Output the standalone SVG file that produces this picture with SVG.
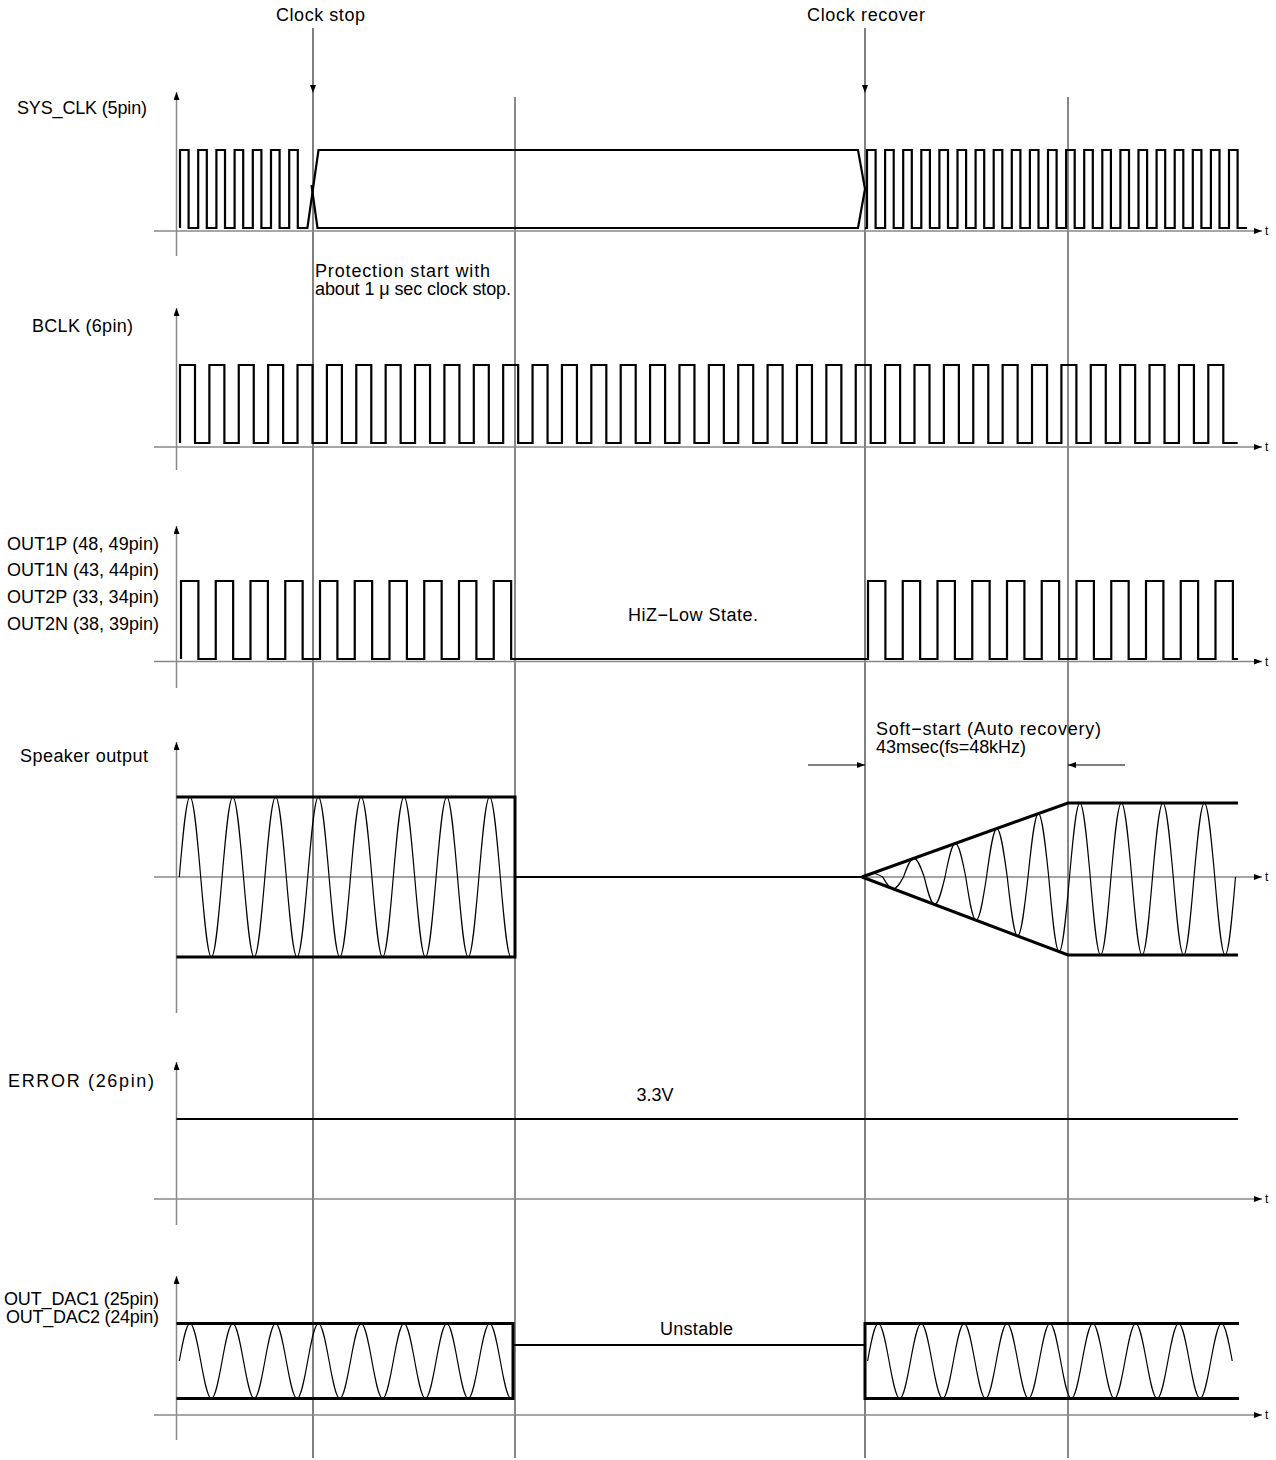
<svg xmlns="http://www.w3.org/2000/svg" width="1276" height="1460" viewBox="0 0 1276 1460">
<defs>
<marker id="ah" viewBox="0 0 8 6" refX="8" refY="3" markerWidth="8" markerHeight="6" orient="auto" markerUnits="userSpaceOnUse"><path d="M0,0 L8,3 L0,6 z" fill="#000"/></marker>
<style>
text{font-family:"Liberation Sans",Arial,sans-serif;font-size:18px;fill:#000}
.tl{font-size:12px}
.ax{stroke:#888;stroke-width:1.5;fill:none}
.sig{stroke:#000;stroke-width:2.2;fill:none}
.env{stroke:#000;stroke-width:3;fill:none}
.flat{stroke:#000;stroke-width:2;fill:none}
.sin{stroke:#000;stroke-width:1.2;fill:none}
.mk{stroke:#000;stroke-width:1;fill:none}
.mkg{stroke:#888;stroke-width:2;fill:none}
.dim{stroke:#000;stroke-width:1;fill:none}
</style>
</defs>
<rect width="1276" height="1460" fill="#fff"/>

<g id="connectors">
<path class="mk" d="M313,28 V93" marker-end="url(#ah)"/>
<path class="mk" d="M313,93 V1458"/>
<path class="mk" d="M865,28 V93" marker-end="url(#ah)"/>
<path class="mk" d="M865,93 V1458"/>
<path class="mkg" d="M515,97 V1458"/>
<path class="mkg" d="M1068,97 V1458"/>
<path class="dim" d="M808,765 H865" marker-end="url(#ah)"/>
<path class="dim" d="M1125,765 H1068" marker-end="url(#ah)"/>
</g>

<g id="axes">
<path class="ax" d="M176.5,256 V92" marker-end="url(#ah)"/>
<path class="ax" d="M154,231 H1262" marker-end="url(#ah)"/>
<path class="ax" d="M176.5,470 V308" marker-end="url(#ah)"/>
<path class="ax" d="M154,447 H1262" marker-end="url(#ah)"/>
<path class="ax" d="M176.5,688 V526" marker-end="url(#ah)"/>
<path class="ax" d="M154,661.5 H1262" marker-end="url(#ah)"/>
<path class="ax" d="M176.5,1013 V742" marker-end="url(#ah)"/>
<path class="ax" d="M154,877 H1262" marker-end="url(#ah)"/>
<path class="ax" d="M176.5,1225 V1062" marker-end="url(#ah)"/>
<path class="ax" d="M154,1199 H1262" marker-end="url(#ah)"/>
<path class="ax" d="M176.5,1440 V1276" marker-end="url(#ah)"/>
<path class="ax" d="M154,1415 H1262" marker-end="url(#ah)"/>
<text class="tl" x="1265" y="235">t</text>
<text class="tl" x="1265" y="451">t</text>
<text class="tl" x="1265" y="665.5">t</text>
<text class="tl" x="1265" y="881">t</text>
<text class="tl" x="1265" y="1203">t</text>
<text class="tl" x="1265" y="1419">t</text>
</g>

<g id="events">
<text x="276" y="20.5" textLength="89" lengthAdjust="spacing">Clock stop</text>
<text x="807" y="20.5" textLength="118" lengthAdjust="spacing">Clock recover</text>
</g>

<g id="sys_clk">
<text x="17" y="113.5" textLength="130" lengthAdjust="spacing">SYS_CLK (5pin)</text>
<path class="sig" d="M180,228 v-78h8.6v78h9.6 v-78h8.6v78h9.6 v-78h8.6v78h9.6 v-78h8.6v78h9.6 v-78h8.6v78h9.6 v-78h8.6v78h9.6 v-78h8.6v78h9.6 L318.5,150 H858 L865,189"/>
<path class="sig" d="M311.5,185 L317.5,228 H858 L865,189"/>
<path class="sig" d="M865,228 h2 v-78h8.6v78h9.5 v-78h8.6v78h9.5 v-78h8.6v78h9.5 v-78h8.6v78h9.5 v-78h8.6v78h9.5 v-78h8.6v78h9.5 v-78h8.6v78h9.5 v-78h8.6v78h9.5 v-78h8.6v78h9.5 v-78h8.6v78h9.5 v-78h8.6v78h9.5 v-78h8.6v78h9.5 v-78h8.6v78h9.5 v-78h8.6v78h9.5 v-78h8.6v78h9.5 v-78h8.6v78h9.5 v-78h8.6v78h9.5 v-78h8.6v78h9.5 v-78h8.6v78h9.5 v-78h8.6v78h9.5 v-78h8.6v78h9.5"/>
<text x="315" y="277" textLength="175" lengthAdjust="spacing">Protection start with</text>
<text x="315" y="295" textLength="196" lengthAdjust="spacing">about 1 μ sec clock stop.</text>
</g>

<g id="bclk">
<text x="32" y="331.5" textLength="101" lengthAdjust="spacing">BCLK (6pin)</text>
<path class="sig" d="M180,443 v-78h15v78h14.38 v-78h15v78h14.38 v-78h15v78h14.38 v-78h15v78h14.38 v-78h15v78h14.38 v-78h15v78h14.38 v-78h15v78h14.38 v-78h15v78h14.38 v-78h15v78h14.38 v-78h15v78h14.38 v-78h15v78h14.38 v-78h15v78h14.38 v-78h15v78h14.38 v-78h15v78h14.38 v-78h15v78h14.38 v-78h15v78h14.38 v-78h15v78h14.38 v-78h15v78h14.38 v-78h15v78h14.38 v-78h15v78h14.38 v-78h15v78h14.38 v-78h15v78h14.38 v-78h15v78h14.38 v-78h15v78h14.38 v-78h15v78h14.38 v-78h15v78h14.38 v-78h15v78h14.38 v-78h15v78h14.38 v-78h15v78h14.38 v-78h15v78h14.38 v-78h15v78h14.38 v-78h15v78h14.38 v-78h15v78h14.38 v-78h15v78h14.38 v-78h15v78h14.38 v-78h15v78h14.38"/>
</g>

<g id="out_pwm">
<text x="7" y="549.5" textLength="152" lengthAdjust="spacing">OUT1P (48, 49pin)</text>
<text x="7" y="576" textLength="152" lengthAdjust="spacing">OUT1N (43, 44pin)</text>
<text x="7" y="603" textLength="152" lengthAdjust="spacing">OUT2P (33, 34pin)</text>
<text x="7" y="629.5" textLength="152" lengthAdjust="spacing">OUT2N (38, 39pin)</text>
<path class="sig" d="M181,659 v-78h17.4v78h17.35 v-78h17.4v78h17.35 v-78h17.4v78h17.35 v-78h17.4v78h17.35 v-78h17.4v78h17.35 v-78h17.4v78h17.35 v-78h17.4v78h17.35 v-78h17.4v78h17.35 v-78h17.4v78h17.35 v-78h17.4v78h17.35 H868 v-78h17.4v78h17.35 v-78h17.4v78h17.35 v-78h17.4v78h17.35 v-78h17.4v78h17.35 v-78h17.4v78h17.35 v-78h17.4v78h17.35 v-78h17.4v78h17.35 v-78h17.4v78h17.35 v-78h17.4v78h17.35 v-78h17.4v78h17.35 v-78h17.4v78 H1238"/>
<text x="628" y="620.5" textLength="130" lengthAdjust="spacing">HiZ−Low State.</text>
</g>

<g id="speaker_output">
<text x="20" y="761.5" textLength="128" lengthAdjust="spacing">Speaker output</text>
<path class="env" d="M176.5,797 H515 V957 H176.5"/>
<path class="sin" d="M179.3,877 c3.489,-40.98 6.828,-80 10.7,-80 s7.211,39.02 10.7,80 s6.828,80 10.7,80 s7.211,-39.02 10.7,-80 s6.828,-80 10.7,-80 s7.211,39.02 10.7,80 s6.828,80 10.7,80 s7.211,-39.02 10.7,-80 s6.828,-80 10.7,-80 s7.211,39.02 10.7,80 s6.828,80 10.7,80 s7.211,-39.02 10.7,-80 s6.828,-80 10.7,-80 s7.211,39.02 10.7,80 s6.828,80 10.7,80 s7.211,-39.02 10.7,-80 s6.828,-80 10.7,-80 s7.211,39.02 10.7,80 s6.828,80 10.7,80 s7.211,-39.02 10.7,-80 s6.828,-80 10.7,-80 s7.211,39.02 10.7,80 s6.828,80 10.7,80 s7.211,-39.02 10.7,-80 s6.828,-80 10.7,-80 s7.211,39.02 10.7,80 s6.828,80 10.7,80 s7.211,-39.02 10.7,-80 s6.828,-80 10.7,-80 s7.211,39.02 10.7,80 s6.828,80 10.7,80"/>
<path class="flat" d="M515,877 H862"/>
<path class="env" d="M862,877 L1068,803 H1238 M862,877 L1068,955 H1238"/>
<path class="sin" d="M862,877 c3.383,-1.91 6.62,-3.73 10.375,-3.73 c3.755,0 6.992,1.82 10.375,3.73 c3.383,6.04 6.62,11.79 10.375,11.79 c3.755,0 6.992,-5.75 10.375,-11.79 c3.383,-9.54 6.62,-18.63 10.375,-18.63 c3.755,0 6.992,9.09 10.375,18.63 c3.383,14.09 6.62,27.5 10.375,27.5 c3.755,0 6.992,-13.41 10.375,-27.5 c3.383,-17.18 6.62,-33.54 10.375,-33.54 c3.755,0 6.992,16.36 10.375,33.54 c3.383,22.14 6.62,43.21 10.375,43.21 c3.755,0 6.992,-21.07 10.375,-43.21 c3.383,-24.82 6.62,-48.45 10.375,-48.45 c3.755,0 6.992,23.63 10.375,48.45 c3.383,30.19 6.62,58.93 10.375,58.93 c3.755,0 6.992,-28.74 10.375,-58.93 c3.383,-32.46 6.62,-63.36 10.375,-63.36 c3.755,0 6.992,30.9 10.375,63.36 c3.383,38.24 6.62,74.64 10.375,74.64 c3.755,0 6.992,-36.4 10.375,-74.64 c3.383,-37.91 6.62,-74 10.375,-74 c3.755,0 6.992,36.09 10.375,74 c3.383,39.96 6.62,78 10.375,78 c3.755,0 6.992,-38.04 10.375,-78 c3.383,-37.91 6.62,-74 10.375,-74 c3.755,0 6.992,36.09 10.375,74 c3.383,39.96 6.62,78 10.375,78 c3.755,0 6.992,-38.04 10.375,-78 c3.383,-37.91 6.62,-74 10.375,-74 c3.755,0 6.992,36.09 10.375,74 c3.383,39.96 6.62,78 10.375,78 c3.755,0 6.992,-38.04 10.375,-78 c3.383,-37.91 6.62,-74 10.375,-74 c3.755,0 6.992,36.09 10.375,74 c3.383,39.96 6.62,78 10.375,78 c3.755,0 6.992,-38.04 10.375,-78"/>
<text x="876" y="735" textLength="225" lengthAdjust="spacing">Soft−start (Auto recovery)</text>
<text x="876" y="753" textLength="150" lengthAdjust="spacing">43msec(fs=48kHz)</text>
</g>

<g id="error">
<text x="8" y="1086.5" textLength="146" lengthAdjust="spacing">ERROR (26pin)</text>
<path class="flat" d="M176.5,1119 H1238"/>
<text x="655" y="1100.5" text-anchor="middle">3.3V</text>
</g>

<g id="out_dac">
<text x="4" y="1305" textLength="155" lengthAdjust="spacing">OUT_DAC1 (25pin)</text>
<text x="6" y="1323" textLength="153" lengthAdjust="spacing">OUT_DAC2 (24pin)</text>
<path class="env" d="M176.5,1323.5 H513 V1398.5 H176.5"/>
<path class="sin" d="M179.3,1361 c3.489,-19.21 6.828,-37.5 10.7,-37.5 s7.211,18.29 10.7,37.5 s6.828,37.5 10.7,37.5 s7.211,-18.29 10.7,-37.5 s6.828,-37.5 10.7,-37.5 s7.211,18.29 10.7,37.5 s6.828,37.5 10.7,37.5 s7.211,-18.29 10.7,-37.5 s6.828,-37.5 10.7,-37.5 s7.211,18.29 10.7,37.5 s6.828,37.5 10.7,37.5 s7.211,-18.29 10.7,-37.5 s6.828,-37.5 10.7,-37.5 s7.211,18.29 10.7,37.5 s6.828,37.5 10.7,37.5 s7.211,-18.29 10.7,-37.5 s6.828,-37.5 10.7,-37.5 s7.211,18.29 10.7,37.5 s6.828,37.5 10.7,37.5 s7.211,-18.29 10.7,-37.5 s6.828,-37.5 10.7,-37.5 s7.211,18.29 10.7,37.5 s6.828,37.5 10.7,37.5 s7.211,-18.29 10.7,-37.5 s6.828,-37.5 10.7,-37.5 s7.211,18.29 10.7,37.5 s6.828,37.5 10.7,37.5 s7.211,-18.29 10.7,-37.5 s6.828,-37.5 10.7,-37.5 s7.211,18.29 10.7,37.5 s6.828,37.5 10.7,37.5"/>
<path class="flat" d="M513,1345 H865"/>
<path class="env" d="M1239,1323.5 H865 V1398.5 H1239"/>
<path class="sin" d="M867.6,1361 c3.497,-19.21 6.844,-37.5 10.725,-37.5 s7.228,18.29 10.725,37.5 s6.844,37.5 10.725,37.5 s7.228,-18.29 10.725,-37.5 s6.844,-37.5 10.725,-37.5 s7.228,18.29 10.725,37.5 s6.844,37.5 10.725,37.5 s7.228,-18.29 10.725,-37.5 s6.844,-37.5 10.725,-37.5 s7.228,18.29 10.725,37.5 s6.844,37.5 10.725,37.5 s7.228,-18.29 10.725,-37.5 s6.844,-37.5 10.725,-37.5 s7.228,18.29 10.725,37.5 s6.844,37.5 10.725,37.5 s7.228,-18.29 10.725,-37.5 s6.844,-37.5 10.725,-37.5 s7.228,18.29 10.725,37.5 s6.844,37.5 10.725,37.5 s7.228,-18.29 10.725,-37.5 s6.844,-37.5 10.725,-37.5 s7.228,18.29 10.725,37.5 s6.844,37.5 10.725,37.5 s7.228,-18.29 10.725,-37.5 s6.844,-37.5 10.725,-37.5 s7.228,18.29 10.725,37.5 s6.844,37.5 10.725,37.5 s7.228,-18.29 10.725,-37.5 s6.844,-37.5 10.725,-37.5 s7.228,18.29 10.725,37.5 s6.844,37.5 10.725,37.5 s7.228,-18.29 10.725,-37.5 s6.844,-37.5 10.725,-37.5 s7.228,18.29 10.725,37.5"/>
<text x="660" y="1334.5" textLength="73" lengthAdjust="spacing">Unstable</text>
</g>
</svg>
